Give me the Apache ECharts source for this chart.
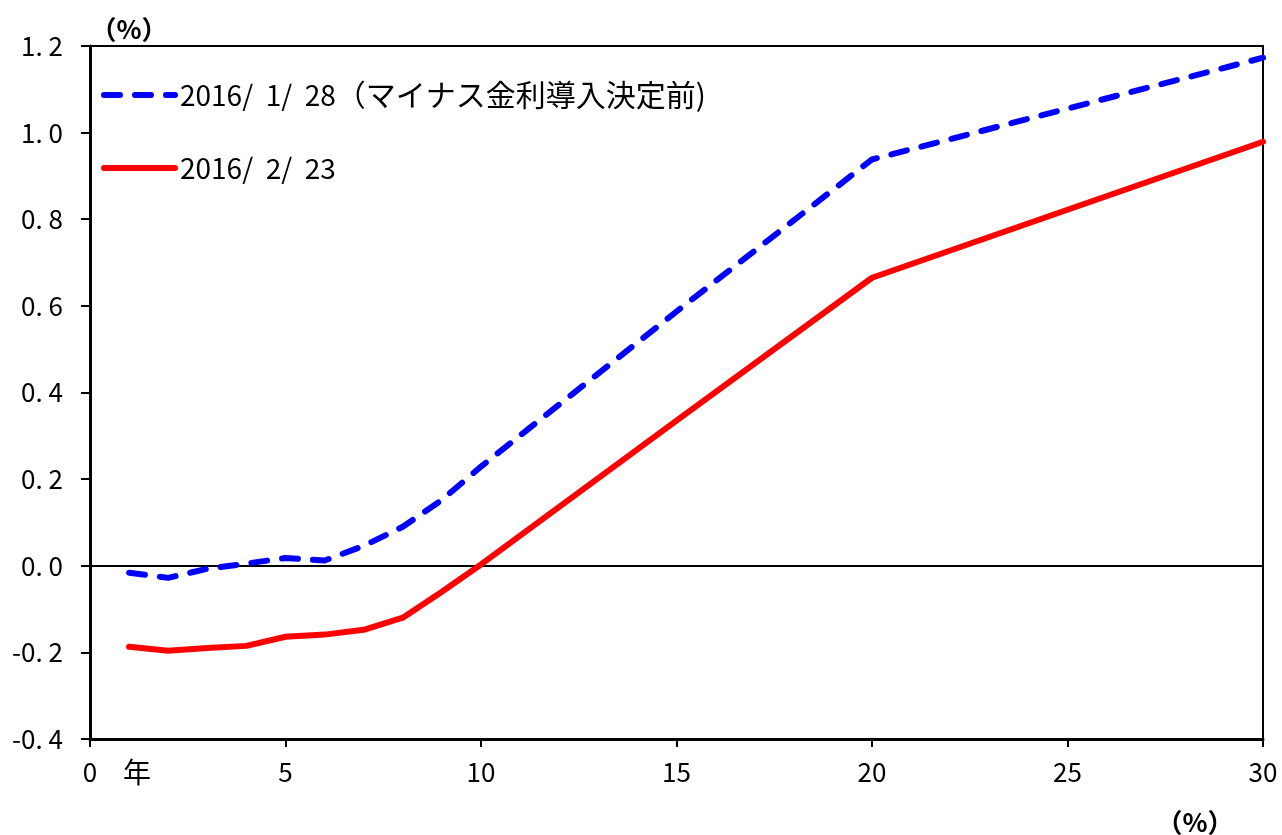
<!DOCTYPE html>
<html>
<head>
<meta charset="utf-8">
<script src="https://cdn.jsdelivr.net/npm/echarts@6/dist/echarts.min.js"></script>
<style>
  html, body { margin: 0; padding: 0; background: #fff; }
  #chart { width: 1282px; height: 835px; }
</style>
</head>
<body>
<div id="chart"></div>
<script>
// 国債利回り曲線（残存年数別）
const maturities = [1, 2, 3, 4, 5, 6, 7, 8, 9, 10, 15, 20, 30];
const yieldsJan28 = [-0.016, -0.028, -0.007, 0.005, 0.018, 0.012, 0.046, 0.090, 0.152, 0.229, 0.587, 0.938, 1.173];
const yieldsFeb23 = [-0.187, -0.196, -0.190, -0.185, -0.164, -0.159, -0.148, -0.120, -0.060, 0.003, 0.335, 0.665, 0.979];
const seriesNames = ['2016/  1/  28（マイナス金利導入決定前)', '2016/  2/  23'];
const xTicks = [0, 5, 10, 15, 20, 25, 30];
const yTicks = [-0.4, -0.2, 0.0, 0.2, 0.4, 0.6, 0.8, 1.0, 1.2];

const FONT = '"Noto Sans CJK JP", "DejaVu Sans", sans-serif';
const BLUE = '#0000ff';
const RED = '#ff0000';
const BLUE_DASH = [16, 15];

const pairs = (xs, ys) => xs.map((x, i) => [x, ys[i]]);

// 凡例: 日付部分と注記部分で文字サイズを変える
const legendFormatter = name => {
  const k = name.indexOf('（');
  if (k < 0) return '{n|' + name + '}';
  return '{n|' + name.slice(0, k) + '}{c|' + name.slice(k) + '}';
};

const chart = echarts.init(document.getElementById('chart'), null, { renderer: 'canvas' });

chart.setOption({
  animation: false,
  backgroundColor: '#ffffff',
  textStyle: { fontFamily: FONT },
  grid: {
    left: 90, right: 19, top: 46, bottom: 96,
    show: true, borderColor: '#000', borderWidth: 2, backgroundColor: 'transparent'
  },
  legend: {
    orient: 'vertical',
    left: 101, top: 80,
    padding: 0,
    itemWidth: 71, itemHeight: 10,
    itemGap: 44,
    formatter: legendFormatter,
    textStyle: {
      fontFamily: FONT, fontSize: 28, color: '#000',
      rich: {
        n: { fontFamily: FONT, fontSize: 28, color: '#000' },
        c: { fontFamily: FONT, fontSize: 30, color: '#000' }
      }
    },
    data: [
      {
        name: seriesNames[0],
        itemStyle: { opacity: 0 },
        lineStyle: { color: BLUE, width: 6, type: BLUE_DASH, cap: 'round' }
      },
      {
        name: seriesNames[1],
        itemStyle: { opacity: 0 },
        lineStyle: { color: RED, width: 6, type: 'solid', cap: 'round' }
      }
    ]
  },
  xAxis: {
    type: 'value',
    min: xTicks[0], max: xTicks[xTicks.length - 1], interval: 5,
    axisLine: { show: true, onZero: false, lineStyle: { color: '#000', width: 3 } },
    axisTick: { show: true, inside: false, length: 8, lineStyle: { color: '#000', width: 2 } },
    axisLabel: { margin: 20, fontSize: 26, color: '#000', fontFamily: FONT },
    splitLine: { show: false }
  },
  yAxis: {
    type: 'value',
    min: yTicks[0], max: yTicks[yTicks.length - 1], interval: 0.2,
    axisLine: { show: true, lineStyle: { color: '#000', width: 3 } },
    axisTick: { show: true, inside: false, length: 9, lineStyle: { color: '#000', width: 2 } },
    axisLabel: {
      margin: 27, fontSize: 26, color: '#000', fontFamily: FONT,
      formatter: v => v.toFixed(1).replace('.', '. ')
    },
    splitLine: { show: false }
  },
  graphic: [
    { type: 'text', x: 129, y: 29, style: { text: '（%）', fontSize: 26, fontFamily: FONT, fontWeight: 'bold', fill: '#000', align: 'center', verticalAlign: 'middle' } },
    { type: 'text', x: 1195, y: 822, style: { text: '（%）', fontSize: 26, fontFamily: FONT, fontWeight: 'bold', fill: '#000', align: 'center', verticalAlign: 'middle' } },
    { type: 'text', x: 137, y: 772, style: { text: '年', fontSize: 28, fontFamily: FONT, fill: '#000', align: 'center', verticalAlign: 'middle' } }
  ],
  series: [
    {
      name: seriesNames[1],
      type: 'line',
      data: pairs(maturities, yieldsFeb23),
      symbol: 'none',
      z: 3,
      lineStyle: { color: RED, width: 6, cap: 'round', join: 'round' },
      itemStyle: { color: RED },
      markLine: {
        silent: true, symbol: 'none', label: { show: false },
        lineStyle: { color: '#000', width: 2, type: 'solid' },
        data: [{ yAxis: 0 }],
        z: 1
      }
    },
    {
      name: seriesNames[0],
      type: 'line',
      data: pairs(maturities, yieldsJan28),
      symbol: 'none',
      z: 4,
      lineStyle: { color: BLUE, width: 6, type: BLUE_DASH, cap: 'round', join: 'round' },
      itemStyle: { color: BLUE }
    }
  ]
});
</script>
</body>
</html>
